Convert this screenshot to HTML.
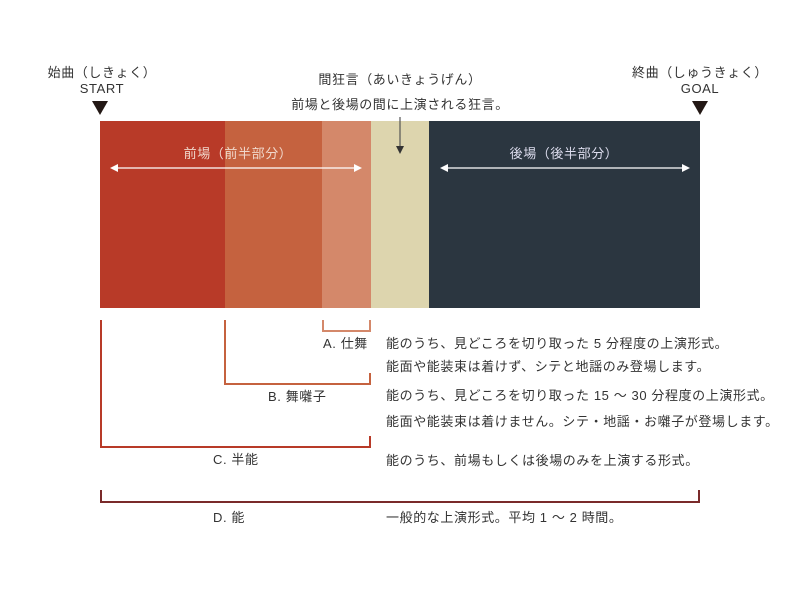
<!DOCTYPE html>
<html><head><meta charset="utf-8"><style>
body{margin:0;width:800px;height:600px;background:#fff;position:relative;overflow:hidden;font-family:"Liberation Sans","Noto Sans CJK JP",sans-serif;color:#333;}
.t{position:absolute;font-size:13px;line-height:16px;white-space:nowrap;letter-spacing:0.6px;}
.c{transform:translateX(-50%);text-align:center;}
</style></head><body>
<svg width="800" height="600" style="position:absolute;left:0;top:0">
<rect x="100" y="121" width="125" height="187" fill="#b83a28"/>
<rect x="225" y="121" width="97" height="187" fill="#c5623f"/>
<rect x="322" y="121" width="49" height="187" fill="#d4886a"/>
<rect x="371" y="121" width="58" height="187" fill="#ddd5ae"/>
<rect x="429" y="121" width="271" height="187" fill="#2b3640"/>
<polygon points="92,101 108,101 100,115" fill="#231815"/>
<polygon points="692,101 708,101 700,115" fill="#231815"/>
<line x1="400" y1="117" x2="400" y2="150" stroke="#555" stroke-width="1.2"/>
<polygon points="396,146 404,146 400,154" fill="#333"/>
<line x1="114" y1="168" x2="358" y2="168" stroke="#fff" stroke-width="1.2"/>
<polygon points="110,168 118,164 118,172" fill="#fff"/>
<polygon points="362,168 354,164 354,172" fill="#fff"/>
<line x1="444" y1="168" x2="686" y2="168" stroke="#fff" stroke-width="1.2"/>
<polygon points="440,168 448,164 448,172" fill="#fff"/>
<polygon points="690,168 682,164 682,172" fill="#fff"/>
<polyline points="323,320 323,331 370,331 370,320" fill="none" stroke="#d4886a" stroke-width="2"/>
<polyline points="225,320 225,384 370,384 370,373" fill="none" stroke="#c5623f" stroke-width="2"/>
<polyline points="101,320 101,447 370,447 370,436" fill="none" stroke="#b83a28" stroke-width="2"/>
<polyline points="101,490 101,502 699,502 699,490" fill="none" stroke="#7a2a2a" stroke-width="2"/>
</svg>
<div class="t c" style="left:102px;top:65px">始曲（しきょく）</div>
<div class="t c" style="left:102px;top:81px">START</div>
<div class="t c" style="left:700px;top:65px">終曲（しゅうきょく）</div>
<div class="t c" style="left:700px;top:81px">GOAL</div>
<div class="t c" style="left:400px;top:72px">間狂言（あいきょうげん）</div>
<div class="t c" style="left:400px;top:97px">前場と後場の間に上演される狂言。</div>
<div class="t c" style="left:238px;top:146px;color:#f0d8cc">前場（前半部分）</div>
<div class="t c" style="left:564px;top:146px;color:#dde">後場（後半部分）</div>
<div class="t" style="left:323px;top:336px">A. 仕舞</div>
<div class="t" style="left:268px;top:389px">B. 舞囃子</div>
<div class="t" style="left:213px;top:452px">C. 半能</div>
<div class="t" style="left:213px;top:510px">D. 能</div>
<div class="t" style="left:386px;top:336px">能のうち、見どころを切り取った 5 分程度の上演形式。</div>
<div class="t" style="left:386px;top:359px">能面や能装束は着けず、シテと地謡のみ登場します。</div>
<div class="t" style="left:386px;top:388px">能のうち、見どころを切り取った 15 ～ 30 分程度の上演形式。</div>
<div class="t" style="left:386px;top:414px">能面や能装束は着けません。シテ・地謡・お囃子が登場します。</div>
<div class="t" style="left:386px;top:453px">能のうち、前場もしくは後場のみを上演する形式。</div>
<div class="t" style="left:386px;top:510px">一般的な上演形式。平均 1 ～ 2 時間。</div>
</body></html>
